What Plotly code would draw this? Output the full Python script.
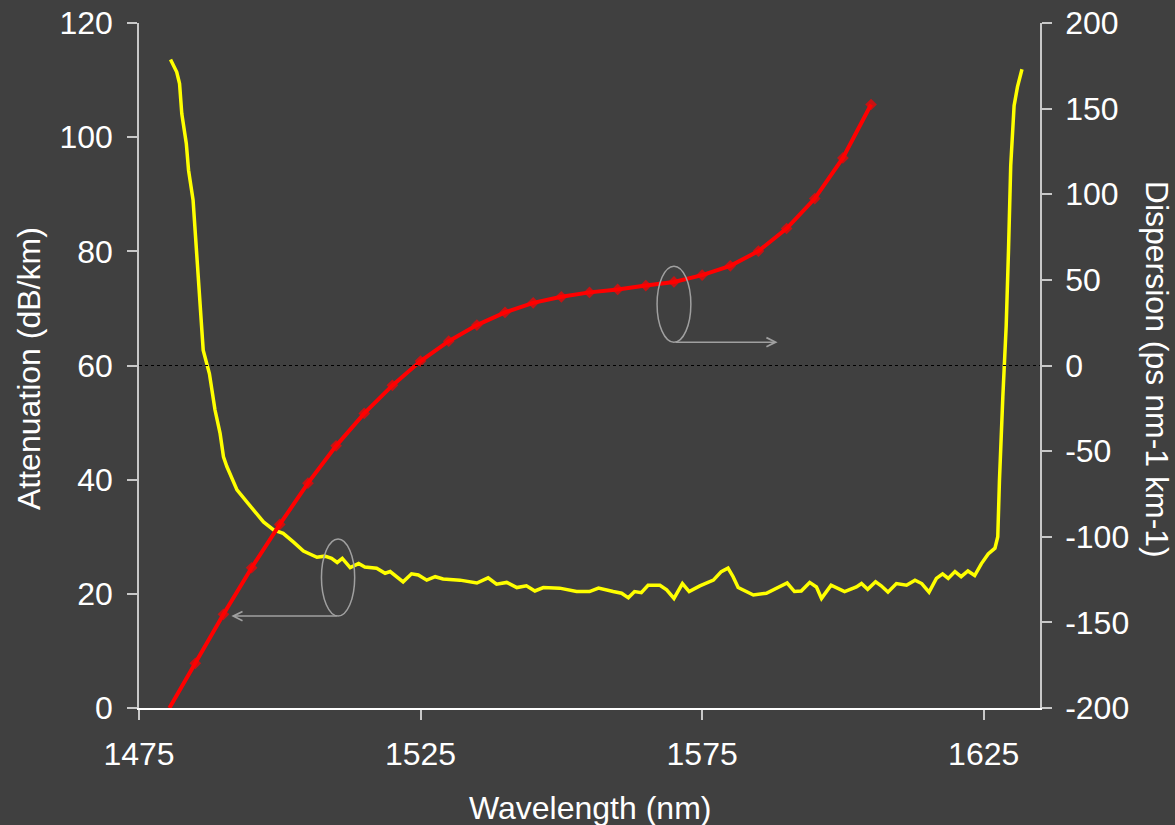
import plotly.graph_objects as go

# Attenuation spectrum (left axis, dB/km)
att_wavelength = [
    1480.6, 1481.7, 1482.2, 1482.6, 1483.4, 1483.8, 1484.6, 1485.1, 1485.6, 1485.9,
    1486.4, 1487.5, 1488.5, 1489.4, 1490.0, 1490.6, 1492.4, 1494.4, 1495.9, 1497.1,
    1498.9, 1500.6, 1502.4, 1504.2, 1506.6, 1508.0, 1509.2, 1510.2, 1511.1, 1512.5,
    1514.0, 1515.1, 1517.2, 1518.7, 1519.6, 1520.8, 1521.9, 1523.4, 1524.6, 1526.1,
    1527.6, 1529.0, 1532.0, 1535.0, 1537.0, 1538.5, 1540.3, 1542.1, 1543.8, 1545.3,
    1546.8, 1549.7, 1552.7, 1555.0, 1556.6, 1559.2, 1560.7, 1561.9, 1563.0, 1564.2,
    1565.4, 1567.5, 1568.7, 1570.0, 1571.5, 1572.7, 1574.6, 1577.0, 1578.4, 1579.6,
    1580.5, 1581.4, 1584.1, 1586.4, 1588.2, 1590.1, 1591.4, 1592.6, 1594.1, 1595.3,
    1596.2, 1597.9, 1600.3, 1602.4, 1603.3, 1604.4, 1605.8, 1606.8, 1608.0, 1609.5,
    1611.3, 1612.8, 1614.0, 1615.3, 1616.6, 1617.7, 1618.7, 1619.9, 1621.0, 1622.2,
    1623.4, 1624.6, 1625.8, 1627.0, 1627.5, 1627.8, 1628.4, 1629.0, 1629.4, 1629.8,
    1630.4, 1631.0, 1631.8,
]
attenuation = [
    113.6, 111.4, 109.4, 104.1, 98.9, 94.2, 89.0, 81.9, 74.9, 71.4,
    62.7, 58.6, 52.2, 48.1, 44.0, 42.3, 38.2, 35.8, 34.1, 32.6,
    31.2, 30.6, 29.1, 27.5, 26.4, 26.6, 26.2, 25.5, 26.2, 24.6,
    25.3, 24.7, 24.5, 23.6, 23.9, 23.0, 22.1, 23.5, 23.3, 22.4,
    23.0, 22.6, 22.4, 21.9, 22.8, 21.7, 22.0, 21.1, 21.4, 20.5,
    21.1, 21.0, 20.4, 20.4, 21.0, 20.4, 20.1, 19.3, 20.4, 20.2,
    21.5, 21.5, 20.7, 19.2, 21.8, 20.4, 21.4, 22.4, 23.9, 24.5,
    23.0, 21.1, 19.8, 20.1, 21.0, 21.9, 20.4, 20.5, 22.0, 21.2,
    19.2, 21.5, 20.4, 21.2, 21.8, 20.8, 22.1, 21.4, 20.3, 21.8,
    21.5, 22.4, 21.8, 20.3, 22.7, 23.5, 22.7, 23.9, 23.0, 24.0,
    23.2, 25.3, 27.0, 28.0, 30.0, 39.9, 54.5, 67.0, 80.0, 95.0,
    105.5, 108.8, 111.9,
]

# Measured dispersion (right axis, ps nm-1 km-1)
disp_wavelength = [
    1480.4, 1485, 1490, 1495, 1500, 1505, 1510, 1515, 1520, 1525, 1530, 1535, 1540,
    1545, 1550, 1555, 1560, 1565, 1570, 1575, 1580, 1585, 1590, 1595, 1600, 1605,
]
dispersion = [
    -200.0, -173.9, -145.3, -118.1, -92.8, -68.7, -46.9, -28.0, -11.6, 2.6,
    14.2, 23.6, 31.0, 36.6, 40.1, 42.7, 44.4, 46.7, 48.8, 52.8,
    58.2, 66.8, 80.0, 97.5, 121.2, 152.4,
]

x_ticks = [1475, 1525, 1575, 1625]
att_ticks = [0, 20, 40, 60, 80, 100, 120]
disp_ticks = [-200, -150, -100, -50, 0, 50, 100, 150, 200]
disp_tick_text = ["-200", "-150", "-100", "-50", "0", "50", "100", "150", "200"]

BG = "#404040"
AXIS = "#c8c8c8"
FONT = "Arial, 'Liberation Sans', sans-serif"
FS = 32

fig = go.Figure()

fig.add_trace(go.Scatter(
    x=att_wavelength, y=attenuation, mode="lines",
    line=dict(color="#ffff00", width=3.5), yaxis="y", showlegend=False,
))
fig.add_trace(go.Scatter(
    x=disp_wavelength, y=dispersion, mode="lines+markers",
    line=dict(color="#ff0000", width=4),
    marker=dict(symbol="diamond", size=[0] + [9] * (len(dispersion) - 1),
                color="#ff0000", line=dict(width=0)),
    yaxis="y2", showlegend=False,
))

# zero-dispersion reference line
fig.add_shape(type="line", xref="x", yref="y2", x0=1475, x1=1635, y0=0, y1=0,
              line=dict(color="#000000", width=1, dash="dot"))

# callout ellipses with arrows pointing to the relevant axis
fig.add_shape(type="circle", xref="x", yref="y", x0=1507.4, x1=1513.3, y0=16.1, y1=29.6,
              line=dict(color="#a0a0a0", width=1.5))
fig.add_annotation(x=1491.4, y=16.1, ax=1510.4, ay=16.1, xref="x", yref="y",
                   axref="x", ayref="y", text="", showarrow=True, arrowhead=5,
                   arrowsize=1.2, arrowwidth=1.5, arrowcolor="#a0a0a0", standoff=0,
                   startstandoff=0)
fig.add_shape(type="circle", xref="x", yref="y2", x0=1567.0, x1=1573.0, y0=13.6, y1=58.0,
              line=dict(color="#a0a0a0", width=1.5))
fig.add_annotation(x=1588.4, y=13.6, ax=1570.0, ay=13.6, xref="x", yref="y2",
                   axref="x", ayref="y2", text="", showarrow=True, arrowhead=5,
                   arrowsize=1.2, arrowwidth=1.5, arrowcolor="#a0a0a0", standoff=0,
                   startstandoff=0)

# axis titles
fig.add_annotation(text="Wavelength (nm)", xref="paper", yref="paper", x=0.5, y=-0.146,
                   showarrow=False, xanchor="center", yanchor="middle",
                   font=dict(family=FONT, size=FS, color="#ffffff"))
fig.add_annotation(text="Attenuation (dB/km)", xref="paper", yref="paper", x=-0.122, y=0.495,
                   showarrow=False, xanchor="center", yanchor="middle", textangle=-90,
                   font=dict(family=FONT, size=FS, color="#ffffff"))
fig.add_annotation(text="Dispersion (ps nm-1 km-1)", xref="paper", yref="paper", x=1.13, y=0.495,
                   showarrow=False, xanchor="center", yanchor="middle", textangle=90,
                   font=dict(family=FONT, size=FS, color="#ffffff"))

fig.update_layout(
    width=1175, height=825,
    margin=dict(l=139, r=135, t=23, b=117, autoexpand=False),
    paper_bgcolor=BG, plot_bgcolor=BG,
    font=dict(family=FONT, size=FS, color="#ffffff"),
    xaxis=dict(
        range=[1475, 1635], tickvals=x_ticks, ticks="outside", ticklen=10,
        tickcolor=AXIS, tickwidth=1.5, showgrid=False, zeroline=False,
        showline=True, linecolor="#ffffff", linewidth=2, ticklabelstandoff=7,
        automargin=False,
    ),
    yaxis=dict(
        range=[0, 120], tickvals=att_ticks, ticks="outside", ticklen=10,
        tickcolor=AXIS, tickwidth=1.5, showgrid=False, zeroline=False,
        showline=True, linecolor=AXIS, linewidth=1.5, ticklabelstandoff=8,
        automargin=False,
    ),
    yaxis2=dict(
        range=[-200, 200], tickvals=disp_ticks, ticktext=disp_tick_text,
        overlaying="y", side="right", anchor="x", ticks="outside", ticklen=10,
        tickcolor=AXIS, tickwidth=1.5, showgrid=False, zeroline=False,
        showline=True, linecolor=AXIS, linewidth=1.5, ticklabelstandoff=7,
        automargin=False,
    ),
    yaxis3=dict(
        range=[-200, 200], tickvals=disp_ticks, overlaying="y", side="right",
        anchor="x", ticks="inside", ticklen=11, tickcolor=AXIS, tickwidth=1.5,
        showgrid=False, zeroline=False, showline=False, showticklabels=False,
        automargin=False,
    ),
)

fig.write_html("out.html")
